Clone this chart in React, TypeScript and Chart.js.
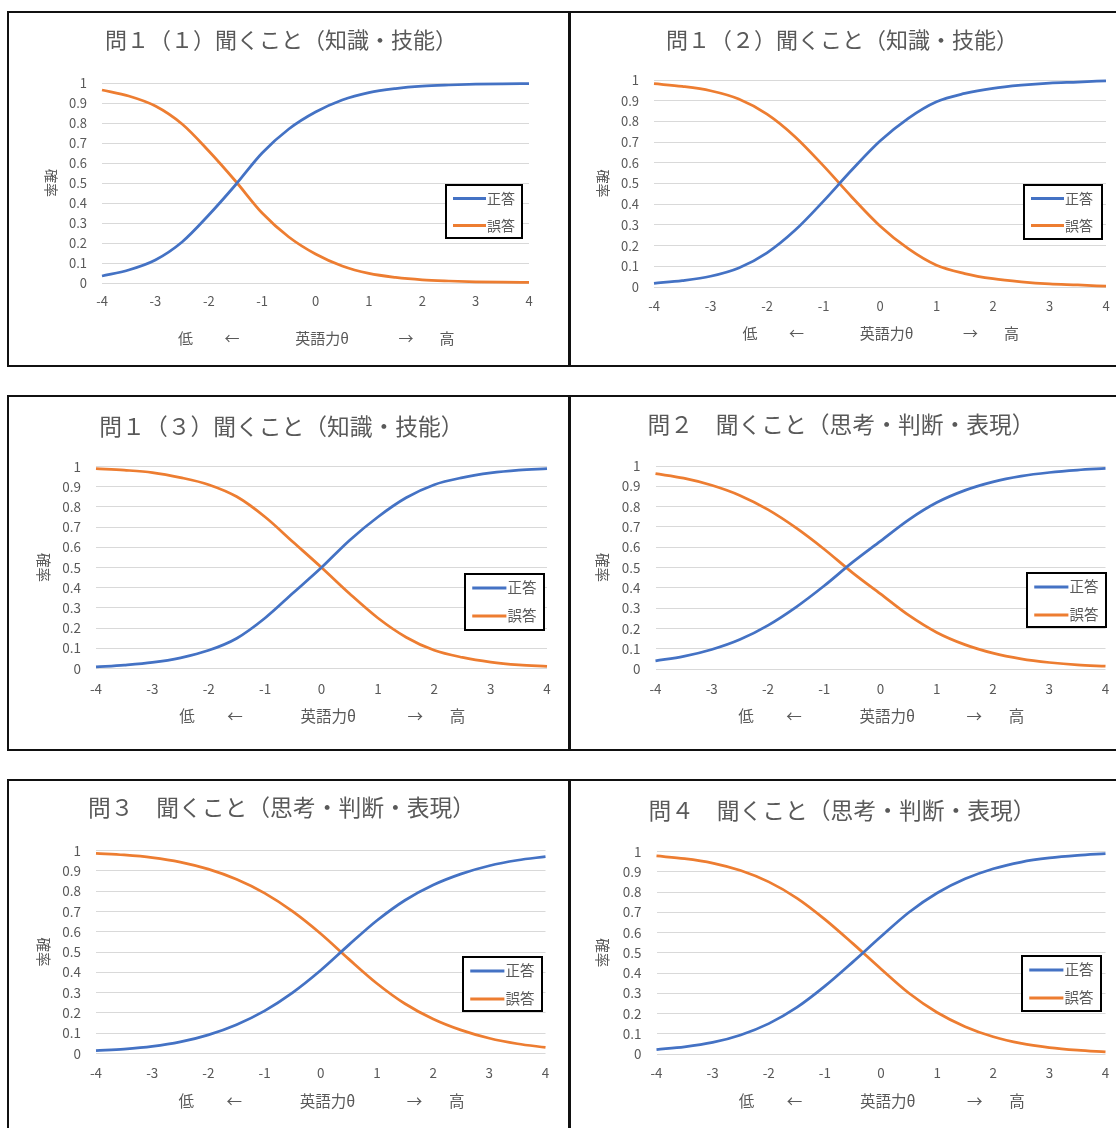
import React, { useEffect, useRef } from "react";
import { Chart, registerables } from "chart.js";

Chart.register(...registerables);

// ---------------- data ----------------
const thetas = [-4, -3.5, -3, -2.5, -2, -1.5, -1, -0.5, 0, 0.5, 1, 1.5, 2, 2.5, 3, 3.5, 4];
const xTickValues = [-4, -3, -2, -1, 0, 1, 2, 3, 4];
const yTickValues = [0, 0.1, 0.2, 0.3, 0.4, 0.5, 0.6, 0.7, 0.8, 0.9, 1];
const seriesNames = ["正答", "誤答"];
const xAxisTitleParts = ["低", "←", "英語力θ", "→", "高"];
const yAxisTitle = "確率";

const chartTitles = [
  "問１（１）聞くこと（知識・技能）",
  "問１（２）聞くこと（知識・技能）",
  "問１（３）聞くこと（知識・技能）",
  "問２　聞くこと（思考・判断・表現）",
  "問３　聞くこと（思考・判断・表現）",
  "問４　聞くこと（思考・判断・表現）",
];

const q1a_correct = [0.035, 0.065, 0.115, 0.205, 0.34, 0.49, 0.65, 0.77, 0.855, 0.915, 0.952, 0.972, 0.984, 0.99, 0.994, 0.996, 0.997];
const q1a_wrong = [0.965, 0.935, 0.885, 0.795, 0.66, 0.51, 0.35, 0.23, 0.145, 0.085, 0.048, 0.028, 0.016, 0.01, 0.006, 0.004, 0.003];

const q1b_correct = [0.018, 0.031, 0.052, 0.092, 0.165, 0.275, 0.415, 0.565, 0.705, 0.815, 0.895, 0.935, 0.96, 0.975, 0.985, 0.99, 0.996];
const q1b_wrong = [0.982, 0.969, 0.948, 0.908, 0.835, 0.725, 0.585, 0.435, 0.295, 0.185, 0.105, 0.065, 0.04, 0.025, 0.015, 0.01, 0.004];

const q1c_correct = [0.008, 0.017, 0.03, 0.053, 0.09, 0.15, 0.25, 0.375, 0.5, 0.635, 0.75, 0.845, 0.91, 0.945, 0.968, 0.982, 0.99];
const q1c_wrong = [0.99, 0.982, 0.97, 0.945, 0.91, 0.85, 0.75, 0.625, 0.5, 0.37, 0.25, 0.155, 0.09, 0.055, 0.032, 0.018, 0.01];

const q2_correct = [0.04, 0.062, 0.096, 0.145, 0.215, 0.305, 0.41, 0.525, 0.63, 0.735, 0.82, 0.88, 0.922, 0.95, 0.968, 0.98, 0.988];
const q2_wrong = [0.962, 0.94, 0.905, 0.855, 0.785, 0.695, 0.59, 0.475, 0.37, 0.265, 0.18, 0.12, 0.078, 0.05, 0.032, 0.02, 0.014];

const q3_correct = [0.014, 0.022, 0.035, 0.057, 0.092, 0.142, 0.21, 0.3, 0.41, 0.535, 0.655, 0.755, 0.83, 0.885, 0.925, 0.952, 0.97];
const q3_wrong = [0.986, 0.978, 0.965, 0.943, 0.908, 0.858, 0.79, 0.7, 0.59, 0.465, 0.345, 0.245, 0.17, 0.115, 0.075, 0.048, 0.03];

const q4_correct = [0.022, 0.035, 0.057, 0.094, 0.15, 0.23, 0.335, 0.455, 0.58, 0.7, 0.795, 0.865, 0.915, 0.948, 0.968, 0.981, 0.99];
const q4_wrong = [0.978, 0.965, 0.943, 0.906, 0.85, 0.77, 0.665, 0.545, 0.42, 0.3, 0.205, 0.135, 0.085, 0.052, 0.032, 0.019, 0.01];

const correctSeries = [q1a_correct, q1b_correct, q1c_correct, q2_correct, q3_correct, q4_correct];
const wrongSeries = [q1a_wrong, q1b_wrong, q1c_wrong, q2_wrong, q3_wrong, q4_wrong];

// ---------------- layout / style ----------------
const BLUE = "#4472C4";
const ORANGE = "#ED7D31";
const TEXT = "#595959";
const GRID = "#d9d9d9";
const FONT = '"Noto Sans CJK JP", "Noto Sans", sans-serif';

// x offsets of the axis-title pieces relative to plot centre
const xTitleOffsets = [-130, -83.5, 6.5, 90.5, 131.5];

type PanelGeom = {
  box: [number, number, number, number]; // left, top, width, height (page)
  plot: [number, number, number, number]; // left, top, right, bottom (page)
  title: [number, number];
  legend: [number, number, number, number];
  yTitleX: number;
  xTickY: number;
  xTitleY: number;
  s: number;
};

const PANELS: PanelGeom[] = [
  { box: [8, 12, 561, 354], plot: [102, 83, 529, 283], title: [281, 40], legend: [446, 185, 522, 238], yTitleX: 51, xTickY: 301, xTitleY: 338, s: 1 },
  { box: [570, 12, 561, 354], plot: [654, 80, 1106, 287], title: [842, 40], legend: [1024, 185, 1102, 239], yTitleX: 603, xTickY: 306, xTitleY: 333, s: 1 },
  { box: [8, 396, 561, 354], plot: [96, 466.5, 547, 668.5], title: [281.5, 426.5], legend: [465, 574, 544, 630], yTitleX: 44, xTickY: 689, xTitleY: 716, s: 1.035 },
  { box: [570, 396, 561, 354], plot: [655.5, 466, 1105.5, 669], title: [841, 424.5], legend: [1027, 573, 1106, 627], yTitleX: 603, xTickY: 689, xTitleY: 716, s: 1.035 },
  { box: [8, 780, 561, 354], plot: [96, 850.5, 545.5, 1053.5], title: [281.5, 807.5], legend: [463, 957, 542, 1011], yTitleX: 44, xTickY: 1073, xTitleY: 1101, s: 1.035 },
  { box: [570, 780, 561, 354], plot: [656.5, 851.5, 1105.5, 1054], title: [842, 810], legend: [1022, 956, 1101, 1011], yTitleX: 603, xTickY: 1073, xTitleY: 1101, s: 1.035 },
];

const YW = 40;
const XH = 30;

const decorPlugin = {
  id: "panelDecor",
  afterDatasetsDraw(chart: any, _args: any, opts: any) {
    const ctx = chart.ctx as CanvasRenderingContext2D;
    const ca = chart.chartArea;
    const s = opts.s;
    ctx.save();
    ctx.fillStyle = TEXT;
    ctx.textAlign = "center";
    ctx.textBaseline = "middle";
    // title
    ctx.font = `${22 * s}px ${FONT}`;
    ctx.fillText(opts.title, opts.titleX, opts.titleY);
    // x axis title
    ctx.font = `${15 * s}px ${FONT}`;
    const cx = (ca.left + ca.right) / 2;
    xAxisTitleParts.forEach((p, i) => ctx.fillText(p, cx + xTitleOffsets[i] * s, opts.xTitleY));
    // y axis title (rotated)
    ctx.save();
    ctx.font = `${14 * s}px ${FONT}`;
    ctx.translate(opts.yTitleX, (ca.top + ca.bottom) / 2);
    ctx.rotate(Math.PI / 2);
    ctx.fillText(yAxisTitle, 0, 0);
    ctx.restore();
    // legend
    const [lx1, ly1, lx2, ly2] = opts.legend;
    ctx.fillStyle = "#ffffff";
    ctx.fillRect(lx1, ly1, lx2 - lx1, ly2 - ly1);
    ctx.strokeStyle = "#000000";
    ctx.lineWidth = 2;
    ctx.strokeRect(lx1, ly1, lx2 - lx1, ly2 - ly1);
    chart.data.datasets.forEach((ds: any, i: number) => {
      const y = ly1 + (13.5 + 27 * i) * s;
      ctx.strokeStyle = ds.borderColor;
      ctx.lineWidth = 3;
      ctx.beginPath();
      ctx.moveTo(lx1 + 7 * s, y);
      ctx.lineTo(lx1 + 40 * s, y);
      ctx.stroke();
      ctx.fillStyle = TEXT;
      ctx.textAlign = "left";
      ctx.font = `${14 * s}px ${FONT}`;
      ctx.fillText(ds.label, lx1 + 41 * s, y);
    });
    ctx.restore();
  },
};

function Panel({ idx }: { idx: number }) {
  const ref = useRef<HTMLCanvasElement | null>(null);
  const g = PANELS[idx];
  const [bx, by, W, H] = g.box;
  useEffect(() => {
    if (!ref.current) return;
    const pl = g.plot[0] - bx;
    const pt = g.plot[1] - by;
    const pr = g.plot[2] - bx;
    const pb = g.plot[3] - by;
    const tickFont = { family: FONT, size: 13 * g.s };
    const mk = (label: string, values: number[], color: string) => ({
      label,
      data: thetas.map((t, i) => ({ x: t, y: values[i] })),
      borderColor: color,
      backgroundColor: color,
      borderWidth: 2.75,
      pointRadius: 0,
      cubicInterpolationMode: "monotone",
      fill: false,
      clip: 8,
    });
    const chart = new Chart(ref.current, {
      type: "line",
      data: {
        datasets: [
          mk(seriesNames[0], correctSeries[idx], BLUE),
          mk(seriesNames[1], wrongSeries[idx], ORANGE),
        ],
      },
      options: {
        responsive: false,
        animation: false,
        devicePixelRatio: 1,
        layout: { padding: { left: pl - YW, top: pt, right: W - pr, bottom: H - pb - XH } },
        plugins: {
          legend: { display: false },
          title: { display: false },
          tooltip: { enabled: false },
          panelDecor: {
            s: g.s,
            title: chartTitles[idx],
            titleX: g.title[0] - bx,
            titleY: g.title[1] - by,
            legend: [g.legend[0] - bx, g.legend[1] - by, g.legend[2] - bx, g.legend[3] - by],
            yTitleX: g.yTitleX - bx,
            xTitleY: g.xTitleY - by,
          },
        } as any,
        scales: {
          x: {
            type: "linear",
            min: xTickValues[0],
            max: xTickValues[xTickValues.length - 1],
            afterFit: (sc: any) => { sc.height = XH; },
            afterBuildTicks: (sc: any) => { sc.ticks = xTickValues.map((v) => ({ value: v })); },
            grid: { display: false, drawTicks: false },
            border: { display: false },
            ticks: {
              color: TEXT,
              font: tickFont,
              padding: g.xTickY - g.plot[3] - (13 * g.s * 1.2) / 2,
              maxRotation: 0,
              autoSkip: false,
              callback: (v: any) => String(v),
            },
          },
          y: {
            type: "linear",
            min: 0,
            max: 1,
            afterFit: (sc: any) => { sc.width = YW; },
            afterBuildTicks: (sc: any) => { sc.ticks = yTickValues.map((v) => ({ value: v })); },
            grid: { color: GRID, lineWidth: 1, drawTicks: false },
            border: { display: false },
            ticks: {
              color: TEXT,
              font: tickFont,
              padding: 15,
              autoSkip: false,
              callback: (v: any) => String(Math.round(Number(v) * 10) / 10),
            },
          },
        },
      } as any,
      plugins: [decorPlugin as any],
    });
    return () => chart.destroy();
  }, [idx]);
  return (
    <canvas
      ref={ref}
      width={W}
      height={H}
      style={{ position: "absolute", left: bx, top: by, width: W, height: H }}
    />
  );
}

const hLines = [11, 365, 395, 749, 779];
const rowSpans: [number, number][] = [[11, 367], [395, 751], [779, 1128]];

export default function App() {
  return (
    <div
      style={{
        position: "absolute",
        left: 0,
        top: 0,
        width: 1116,
        height: 1128,
        overflow: "hidden",
        background: "#ffffff",
      }}
    >
      {PANELS.map((_, i) => (
        <Panel key={i} idx={i} />
      ))}
      {hLines.map((y, i) => (
        <div key={"h" + i} style={{ position: "absolute", left: 7, top: y, width: 1116, height: 2, background: "#111" }} />
      ))}
      {rowSpans.map(([a, b], i) => (
        <React.Fragment key={"v" + i}>
          <div style={{ position: "absolute", left: 7, top: a, width: 2, height: b - a, background: "#111" }} />
          <div style={{ position: "absolute", left: 568, top: a, width: 3, height: b - a, background: "#111" }} />
        </React.Fragment>
      ))}
    </div>
  );
}
